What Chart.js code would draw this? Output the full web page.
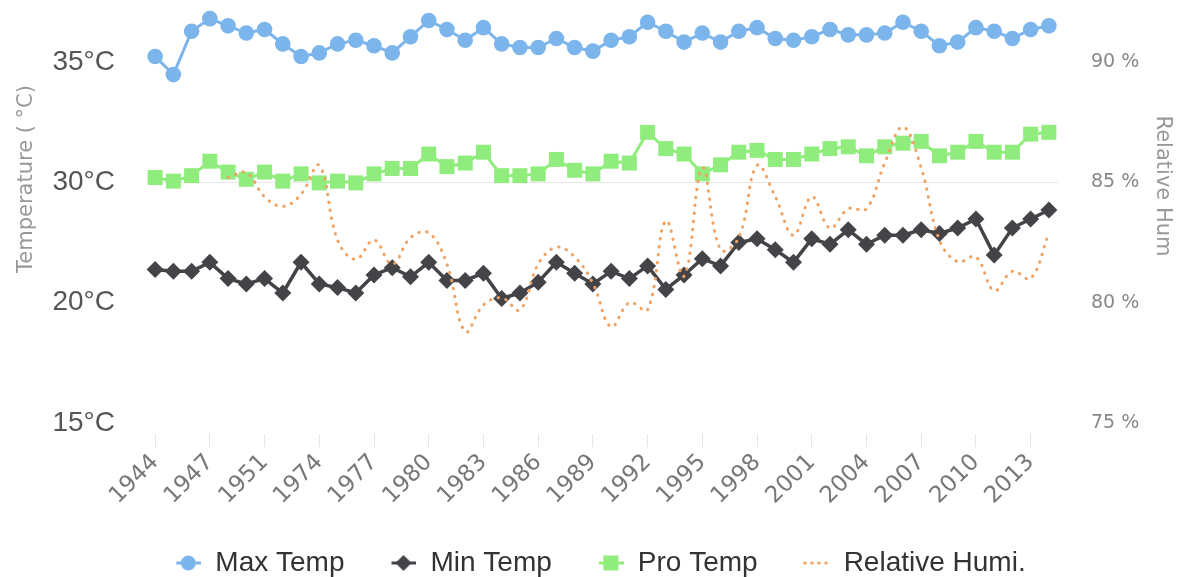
<!DOCTYPE html>
<html>
<head>
<meta charset="utf-8">
<script src="https://cdn.jsdelivr.net/npm/chart.js@4/dist/chart.umd.min.js"></script>
<style>
  html, body { margin: 0; padding: 0; background: #fff; }
  #wrap { position: relative; width: 1181px; height: 577px; }
</style>
</head>
<body>
<div id="wrap"><canvas id="climateChart"></canvas></div>
<script>
// categories (only every third one gets a label on the axis)
const years = ['1944', '1945', '1946', '1947', '1948', '1950', '1951', '1952', '1973',
  '1974', '1975', '1976', '1977', '1978', '1979', '1980', '1981', '1982', '1983',
  '1984', '1985', '1986', '1987', '1988', '1989', '1990', '1991', '1992', '1993',
  '1994', '1995', '1996', '1997', '1998', '1999', '2000', '2001', '2002', '2003',
  '2004', '2005', '2006', '2007', '2008', '2009', '2010', '2011', '2012', '2013', '2014'];

const maxTemp = [35.3, 34.3, 36.7, 37.4, 37.0, 36.6, 36.8, 36.0, 35.3, 35.5,
  36.0, 36.2, 35.9, 35.5, 36.4, 37.3, 36.8, 36.2, 36.9, 36.0,
  35.8, 35.8, 36.3, 35.8, 35.6, 36.2, 36.4, 37.2, 36.7, 36.1,
  36.6, 36.1, 36.7, 36.9, 36.3, 36.2, 36.4, 36.8, 36.5, 36.5,
  36.6, 37.2, 36.7, 35.9, 36.1, 36.9, 36.7, 36.3, 36.8, 37.0];

const minTemp = [23.5, 23.4, 23.4, 23.9, 23.0, 22.7, 23.0, 22.2, 23.9, 22.7,
  22.5, 22.2, 23.2, 23.6, 23.1, 23.9, 22.9, 22.9, 23.3, 21.9,
  22.2, 22.8, 23.9, 23.3, 22.7, 23.4, 23.0, 23.7, 22.4, 23.2,
  24.1, 23.7, 25.0, 25.2, 24.6, 23.9, 25.2, 24.9, 25.7, 24.9,
  25.4, 25.4, 25.7, 25.5, 25.8, 26.3, 24.3, 25.8, 26.3, 26.8];

const proTemp = [28.6, 28.4, 28.7, 29.5, 28.9, 28.5, 28.9, 28.4, 28.8, 28.3,
  28.4, 28.3, 28.8, 29.1, 29.1, 29.9, 29.2, 29.4, 30.0, 28.7,
  28.7, 28.8, 29.6, 29.0, 28.8, 29.5, 29.4, 31.1, 30.2, 29.9,
  28.8, 29.3, 30.0, 30.1, 29.6, 29.6, 29.9, 30.2, 30.3, 29.8,
  30.3, 30.5, 30.6, 29.8, 30.0, 30.6, 30.0, 30.0, 31.0, 31.1];

const humidity = [null, null, null, null, 85.2, 85.4, 84.4, 84.0, 84.5, 85.7,
  82.6, 81.8, 82.6, 81.6, 82.7, 82.9, 81.6, 78.8, 79.9, 80.2,
  79.7, 81.6, 82.3, 81.9, 80.8, 79.0, 80.0, 79.7, 83.4, 81.1,
  85.6, 82.2, 82.7, 85.7, 84.4, 82.8, 84.4, 83.1, 83.9, 83.9,
  85.8, 87.3, 85.6, 82.6, 81.7, 81.9, 80.5, 81.3, 81.0, 82.9];

// left axis: four evenly spaced ticks, labels as printed on the chart
const tempTickValues = [15, 21.667, 28.333, 35];
const tempTickLabels = ['15°C', '20°C', '30°C', '35°C'];
const humTickValues = [75, 80, 85, 90];

const leftTitle = 'Temperature ( °C)';
const rightTitle = 'Relative Hum';

// legend symbol: short line with the series marker, drawn on the right part of the box
function legendIcon(ds) {
  const c = document.createElement('canvas');
  c.width = 46; c.height = 22;
  const g = c.getContext('2d');
  g.strokeStyle = ds.borderColor;
  g.fillStyle = ds.backgroundColor;
  g.lineWidth = 3;
  if (ds.borderDash) { g.setLineDash([0.5, 6.5]); g.lineCap = 'round'; }
  g.beginPath(); g.moveTo(21, 11); g.lineTo(46, 11); g.stroke();
  g.setLineDash([]);
  const cx = 33, cy = 11;
  g.beginPath();
  if (ds.pointStyle === 'circle') {
    g.arc(cx, cy, 7.5, 0, Math.PI * 2);
  } else if (ds.pointStyle === 'rectRot') {
    g.moveTo(cx - 8, cy); g.lineTo(cx, cy - 8); g.lineTo(cx + 8, cy); g.lineTo(cx, cy + 8);
  } else if (ds.pointStyle === 'rect') {
    g.rect(cx - 7.5, cy - 7.5, 15, 15);
  }
  g.closePath();
  if (ds.pointRadius) g.fill();
  return c;
}

const axisTitles = {
  id: 'axisTitles',
  afterDraw(chart) {
    const ctx = chart.ctx;
    const area = chart.chartArea;
    ctx.save();
    ctx.font = '21px "DejaVu Sans"';
    ctx.fillStyle = '#999';
    ctx.textAlign = 'center';
    ctx.textBaseline = 'middle';
    ctx.save();
    ctx.translate(chart.scales.yTemp.left + 27, area.top + 162);
    ctx.rotate(-Math.PI / 2);
    ctx.fillText(leftTitle, 0, 0);
    ctx.restore();
    ctx.translate(chart.scales.yHum.right - 19, area.top + 169);
    ctx.rotate(Math.PI / 2);
    ctx.fillText(rightTitle, 0, 0);
    ctx.restore();
  }
};

const ctx = document.getElementById('climateChart').getContext('2d');
const climateChart = new Chart(ctx, {
  type: 'line',
  data: {
    labels: years,
    datasets: [
      {
        label: 'Max Temp', data: maxTemp, yAxisID: 'yTemp', order: 3, clip: false,
        borderColor: '#7cb5ec', backgroundColor: '#7cb5ec', borderWidth: 3,
        pointStyle: 'circle', pointRadius: 7.8, pointBorderWidth: 0, tension: 0
      },
      {
        label: 'Min Temp', data: minTemp, yAxisID: 'yTemp', order: 2, clip: false,
        borderColor: '#434348', backgroundColor: '#434348', borderWidth: 3.5,
        pointStyle: 'rectRot', pointRadius: 8.5, pointBorderWidth: 0, tension: 0
      },
      {
        label: 'Pro Temp', data: proTemp, yAxisID: 'yTemp', order: 1, clip: false,
        borderColor: '#90ed7d', backgroundColor: '#90ed7d', borderWidth: 3,
        pointStyle: 'rect', pointRadius: 10.6, pointBorderWidth: 0, tension: 0
      },
      {
        label: 'Relative Humi.', data: humidity, yAxisID: 'yHum', order: 0, clip: false,
        borderColor: '#f0a262', backgroundColor: '#f0a262', borderWidth: 3,
        borderDash: [0.5, 7.5], borderCapStyle: 'round',
        pointRadius: 0, tension: 0.4
      }
    ]
  },
  options: {
    responsive: true,
    maintainAspectRatio: false,
    animation: false,
    events: [],
    layout: { padding: { top: 17, left: 0, right: 0, bottom: -10 } },
    scales: {
      x: {
        offset: true,
        border: { display: false },
        grid: {
          drawOnChartArea: false,
          tickLength: 13,
          color: c => c.index % 3 === 0 ? '#e6e6e6' : 'rgba(0,0,0,0)'
        },
        ticks: {
          autoSkip: false, minRotation: 45, maxRotation: 45, padding: 2,
          color: '#777', font: { family: 'DejaVu Sans', size: 23 },
          callback: (v, i) => i % 3 === 0 ? years[i] : ''
        },
        afterFit: s => { s.height = 89; }
      },
      yTemp: {
        position: 'left',
        min: 14.39, max: 37.49,
        afterBuildTicks: s => { s.ticks = tempTickValues.map(v => ({ value: v })); },
        border: { display: false },
        grid: {
          drawTicks: true, tickLength: 31, tickColor: 'rgba(0,0,0,0)',
          color: c => c.index === 2 ? '#e8e8e8' : 'rgba(0,0,0,0)'
        },
        ticks: {
          padding: 0, color: '#555',
          font: { family: 'Liberation Sans', size: 28 },
          callback: (v, i) => tempTickLabels[i]
        },
        afterFit: s => { s.width = 146; }
      },
      yHum: {
        position: 'right',
        min: 74.54, max: 91.87,
        afterBuildTicks: s => { s.ticks = humTickValues.map(v => ({ value: v })); },
        border: { display: false },
        grid: { drawOnChartArea: false, drawTicks: true, tickLength: 33, tickColor: 'rgba(0,0,0,0)' },
        ticks: {
          padding: 0, color: '#888',
          font: { family: 'DejaVu Sans', size: 19 },
          callback: v => v + ' %'
        },
        afterFit: s => { s.width = 123; }
      }
    },
    plugins: {
      tooltip: { enabled: false },
      legend: {
        position: 'bottom',
        labels: {
          usePointStyle: true, pointStyleWidth: 46, padding: 26,
          color: '#333', font: { family: 'Liberation Sans', size: 28 },
          generateLabels: chart => chart.data.datasets.map((ds, i) => ({
            text: ds.label, pointStyle: legendIcon(ds), datasetIndex: i,
            fontColor: '#333', lineWidth: 0, strokeStyle: 'rgba(0,0,0,0)',
            fillStyle: 'rgba(0,0,0,0)', hidden: false
          }))
        }
      }
    }
  },
  plugins: [axisTitles]
});
</script>
</body>
</html>
